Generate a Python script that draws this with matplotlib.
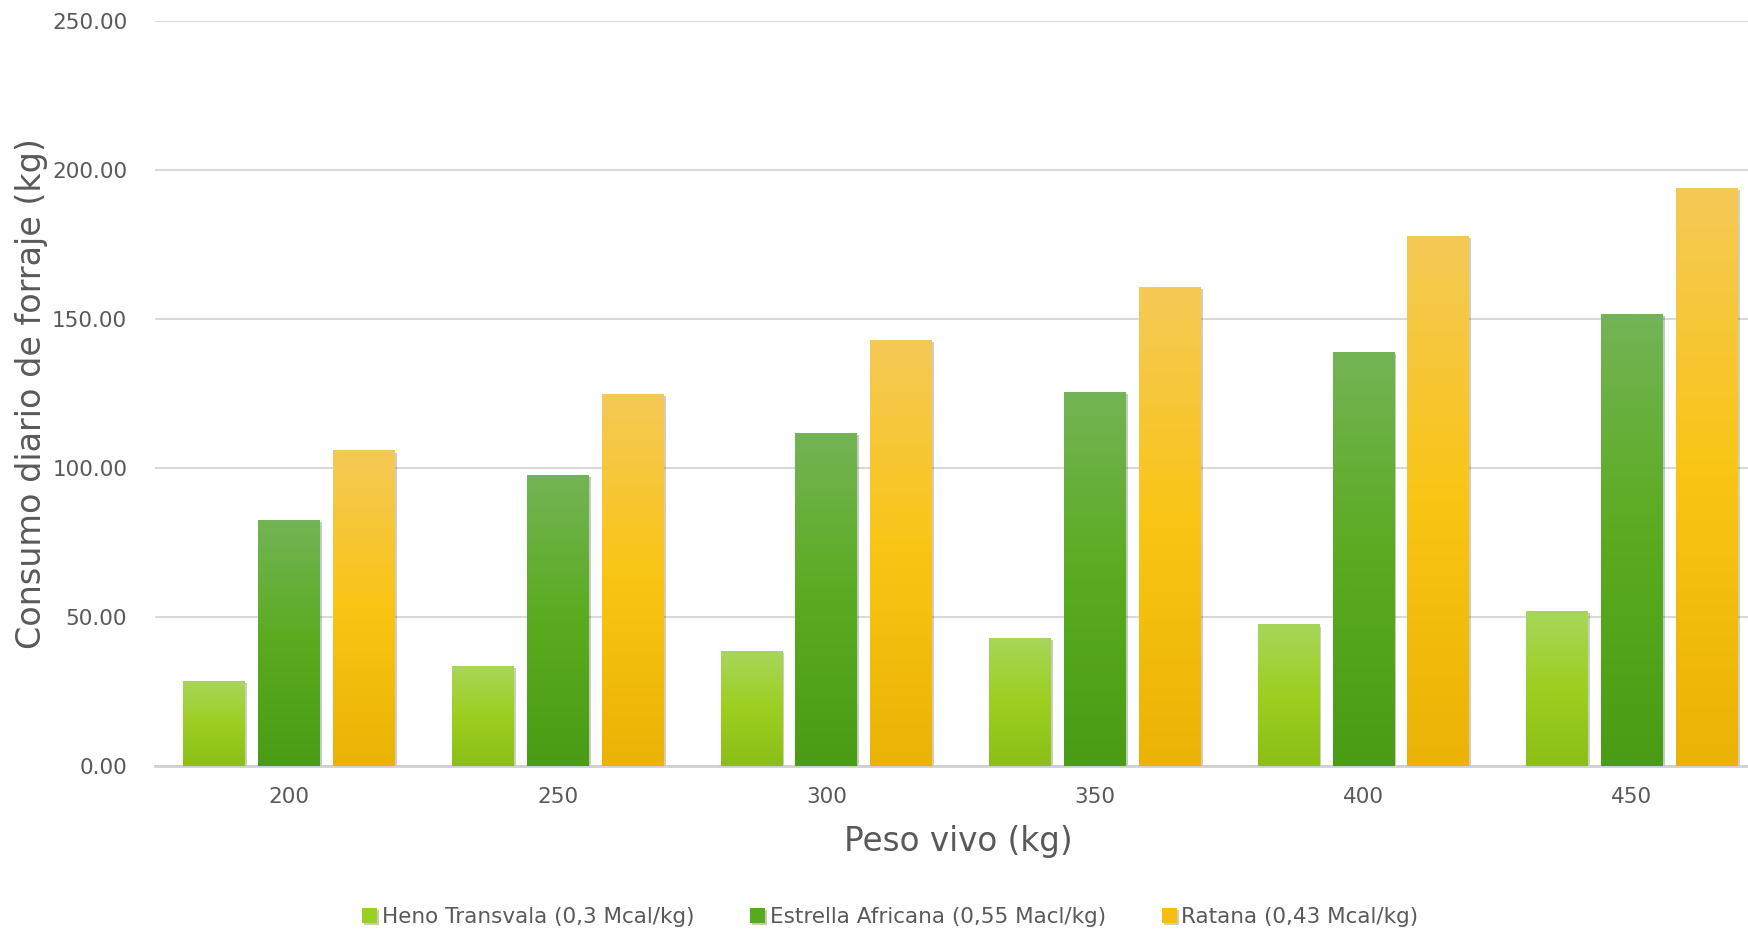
import numpy as np
import matplotlib
matplotlib.use('Agg')
import matplotlib.pyplot as plt
import matplotlib.patheffects as pe
from matplotlib.colors import LinearSegmentedColormap

peso = ['200', '250', '300', '350', '400', '450']
heno = [28.4, 33.7, 38.5, 43.0, 47.5, 52.0]
estrella = [82.7, 97.7, 111.9, 125.4, 138.8, 151.6]
ratana = [105.9, 125.0, 143.0, 160.6, 177.8, 193.9]

series_names = ['Heno Transvala (0,3 Mcal/kg)',
                'Estrella Africana (0,55 Macl/kg)',
                'Ratana (0,43 Mcal/kg)']
# top, middle, bottom of the gradient
gradients = [['#a8d65a', '#9ccf1f', '#8bbf17'],
             ['#73b455', '#5aab1f', '#4a9c15'],
             ['#f5c957', '#f9c514', '#ebb305']]
solid = ['#9bcf22', '#57a91d', '#f5be10']

grey = '#595959'


def gradient_bars(ax, bars, colors):
    cmap = LinearSegmentedColormap.from_list('g', colors[::-1])
    grad = np.linspace(0, 1, 256).reshape(-1, 1)
    for b in bars:
        x0, y0 = b.get_x(), b.get_y()
        w, h = b.get_width(), b.get_height()
        im = ax.imshow(grad, cmap=cmap, aspect='auto', origin='lower',
                       extent=(x0, x0 + w, y0, y0 + h), zorder=3)
        im.set_clip_path(b)


def create_graph():
    fig = plt.figure(figsize=(17.49, 9.30), dpi=100)
    ax = fig.add_axes([155 / 1749, 164 / 930, 1594 / 1749, 745 / 930])

    x = np.arange(len(peso))
    width = 0.23
    step = 0.279
    data = [heno, estrella, ratana]
    handles = []
    for i, vals in enumerate(data):
        bars = ax.bar(x + (i - 1) * step, vals, width, color=solid[i], zorder=2,
                      label=series_names[i])
        for b in bars:
            b.set_path_effects([pe.SimplePatchShadow(offset=(1.5, -1.5), alpha=0.25),
                                pe.Normal()])
        gradient_bars(ax, bars, gradients[i])
        handles.append(bars)

    ax.set_xlim(-0.5, 5.436)
    ax.set_ylim(0, 250)
    ax.set_yticks(np.arange(0, 251, 50))
    ax.set_yticklabels([f'{v:.2f}' for v in np.arange(0, 251, 50)])
    ax.set_xticks(x)
    ax.set_xticklabels(peso)
    ax.tick_params(length=0, labelsize=15.5, colors=grey)
    ax.tick_params(axis='y', pad=20)
    ax.tick_params(axis='x', pad=15)

    ax.grid(axis='y', color='#d9d9d9', linewidth=1.5, zorder=0)
    ax.set_axisbelow(True)
    for s in ['top', 'right', 'left']:
        ax.spines[s].set_visible(False)
    ax.spines['bottom'].set_color('#d0d0d0')
    ax.spines['bottom'].set_linewidth(2)

    ax.set_ylabel('Consumo diario de forraje (kg)', fontsize=24, color=grey)
    ax.yaxis.set_label_coords(-0.067, 0.5)
    ax.set_xlabel('Peso vivo (kg)', fontsize=23.5, color=grey)
    ax.xaxis.set_label_coords(0.504, -0.079)

    fig.legend(handles, series_names, loc='center', bbox_to_anchor=(0.509, 0.014),
               ncol=3, frameon=False, fontsize=15.5, labelcolor=grey,
               handlelength=0.7, handleheight=0.7, handletextpad=0.2,
               columnspacing=2.6)

    fig.savefig('out.png', dpi=100)


def main():
    create_graph()


if __name__ == '__main__':
    main()
